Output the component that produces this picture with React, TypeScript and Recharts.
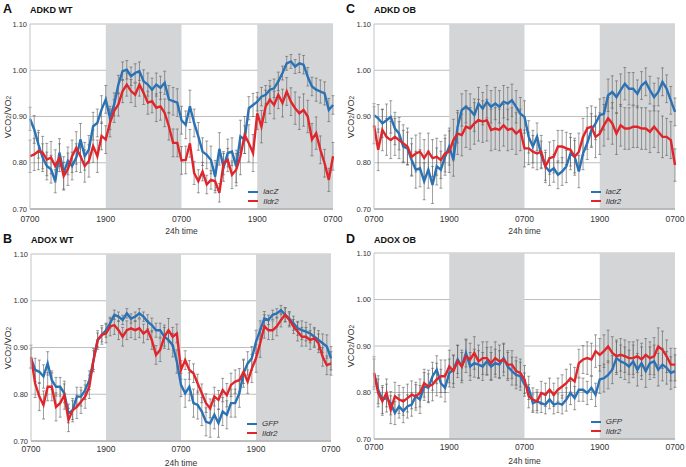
import React from 'react';
import { ComposedChart, Line, ErrorBar, XAxis, YAxis, CartesianGrid, ReferenceArea } from 'recharts';

// one sample every 40 min: index 0 = 0700 on day 1 ... 72 = 0700 two days later
const X_TICKS = [0, 18, 36, 54, 72];
const X_LABELS = ['0700', '1900', '0700', '1900', '0700'];
const Y_TICKS = [0.7, 0.8, 0.9, 1.0, 1.1];
const DARK = [[18, 36], [54, 72]];

// A - ADKD WT
const adkdWtLacZ = [
  0.895, 0.872, 0.84, 0.811, 0.793, 0.786, 0.76, 0.822, 0.778, 0.804,
  0.793, 0.811, 0.85, 0.814, 0.829, 0.879, 0.886, 0.915, 0.937, 0.897,
  0.926, 0.969, 0.998, 1.001, 0.987, 0.994, 0.998, 0.976, 0.969, 0.958,
  0.969, 0.962, 0.973, 0.937, 0.933, 0.93, 0.892, 0.882, 0.922, 0.886,
  0.857, 0.824, 0.817, 0.806, 0.77, 0.83, 0.79, 0.821, 0.824, 0.792,
  0.857, 0.85, 0.918, 0.925, 0.932, 0.943, 0.947, 0.958, 0.961, 0.976,
  0.994, 1.015, 1.019, 1.008, 1.015, 1.012, 0.986, 0.965, 0.958, 0.954,
  0.95, 0.914, 0.925];
const adkdWtIldr2 = [
  0.814, 0.818, 0.825, 0.822, 0.807, 0.811, 0.793, 0.811, 0.771, 0.786,
  0.814, 0.832, 0.814, 0.793, 0.804, 0.836, 0.814, 0.858, 0.85, 0.886,
  0.912, 0.926, 0.955, 0.969, 0.955, 0.947, 0.969, 0.951, 0.93, 0.933,
  0.919, 0.922, 0.908, 0.879, 0.843, 0.843, 0.805, 0.806, 0.842, 0.778,
  0.76, 0.781, 0.753, 0.763, 0.76, 0.735, 0.799, 0.806, 0.774, 0.785,
  0.814, 0.86, 0.842, 0.821, 0.907, 0.878, 0.922, 0.936, 0.925, 0.947,
  0.929, 0.954, 0.932, 0.918, 0.907, 0.914, 0.9, 0.85, 0.864, 0.828,
  0.799, 0.763, 0.814];
const adkdWtLacZErr = [
  0.025, 0.03, 0.03, 0.03, 0.03, 0.03, 0.025, 0.03, 0.035, 0.03, 0.03, 0.03, 0.035, 0.03, 0.03, 0.03, 0.03, 0.03,
  0.03, 0.025, 0.025, 0.02, 0.02, 0.02, 0.02, 0.02, 0.02, 0.025, 0.025, 0.025, 0.025, 0.025, 0.025, 0.03, 0.03, 0.03,
  0.03, 0.03, 0.035, 0.03, 0.03, 0.03, 0.03, 0.03, 0.035, 0.035, 0.03, 0.03, 0.03, 0.035, 0.035, 0.03, 0.025, 0.025,
  0.02, 0.02, 0.02, 0.02, 0.02, 0.02, 0.015, 0.015, 0.015, 0.015, 0.02, 0.02, 0.02, 0.02, 0.025, 0.025, 0.025, 0.025, 0.02];
const adkdWtIldr2Err = [
  0.035, 0.035, 0.04, 0.035, 0.035, 0.035, 0.035, 0.03, 0.03, 0.035, 0.035, 0.035, 0.035, 0.035, 0.035, 0.035, 0.035, 0.03,
  0.03, 0.03, 0.025, 0.025, 0.025, 0.025, 0.025, 0.025, 0.025, 0.025, 0.025, 0.025, 0.03, 0.03, 0.03, 0.03, 0.03, 0.03,
  0.03, 0.03, 0.03, 0.025, 0.025, 0.02, 0.02, 0.02, 0.02, 0.02, 0.025, 0.025, 0.03, 0.035, 0.04, 0.04, 0.04, 0.04,
  0.035, 0.035, 0.035, 0.03, 0.03, 0.03, 0.03, 0.03, 0.03, 0.035, 0.035, 0.035, 0.035, 0.035, 0.035, 0.03, 0.03, 0.025, 0.03];

// C - ADKD OB
const adkdObLacZ = [
  0.903, 0.896, 0.885, 0.892, 0.899, 0.874, 0.863, 0.835, 0.831, 0.806,
  0.785, 0.788, 0.76, 0.785, 0.752, 0.792, 0.785, 0.813, 0.835, 0.806,
  0.878, 0.914, 0.921, 0.914, 0.903, 0.928, 0.917, 0.932, 0.921, 0.928,
  0.921, 0.932, 0.928, 0.935, 0.921, 0.906, 0.899, 0.856, 0.835, 0.856,
  0.817, 0.792, 0.781, 0.788, 0.774, 0.781, 0.792, 0.82, 0.813, 0.781,
  0.82, 0.842, 0.871, 0.885, 0.903, 0.906, 0.946, 0.953, 0.942, 0.957,
  0.971, 0.96, 0.96, 0.949, 0.967, 0.975, 0.957, 0.942, 0.953, 0.975,
  0.96, 0.935, 0.91];
const adkdObIldr2 = [
  0.881, 0.828, 0.871, 0.856, 0.849, 0.856, 0.849, 0.842, 0.835, 0.813,
  0.82, 0.824, 0.81, 0.824, 0.81, 0.813, 0.806, 0.82, 0.824, 0.849,
  0.863, 0.86, 0.878, 0.874, 0.885, 0.892, 0.889, 0.892, 0.871, 0.874,
  0.871, 0.881, 0.871, 0.874, 0.863, 0.871, 0.831, 0.831, 0.824, 0.82,
  0.824, 0.792, 0.81, 0.813, 0.835, 0.835, 0.831, 0.828, 0.813, 0.824,
  0.856, 0.874, 0.878, 0.856, 0.863, 0.881, 0.896, 0.885, 0.863, 0.881,
  0.874, 0.874, 0.878, 0.878, 0.874, 0.874, 0.867, 0.878, 0.867, 0.856,
  0.856, 0.849, 0.795];
const adkdObLacZErr = [
  0.025, 0.03, 0.03, 0.035, 0.035, 0.035, 0.035, 0.035, 0.035, 0.035, 0.04, 0.04, 0.04, 0.04, 0.04, 0.04, 0.04, 0.04,
  0.04, 0.035, 0.035, 0.035, 0.035, 0.035, 0.035, 0.035, 0.035, 0.035, 0.035, 0.035, 0.035, 0.035, 0.035, 0.035, 0.035, 0.035,
  0.035, 0.035, 0.035, 0.03, 0.03, 0.03, 0.03, 0.03, 0.03, 0.03, 0.035, 0.035, 0.035, 0.035, 0.035, 0.035, 0.035, 0.035,
  0.035, 0.035, 0.035, 0.035, 0.035, 0.035, 0.035, 0.035, 0.035, 0.03, 0.03, 0.03, 0.03, 0.03, 0.03, 0.03, 0.03, 0.03, 0.03];
const adkdObIldr2Err = [
  0.04, 0.045, 0.045, 0.04, 0.04, 0.04, 0.04, 0.04, 0.04, 0.04, 0.04, 0.04, 0.04, 0.04, 0.04, 0.04, 0.04, 0.04,
  0.045, 0.045, 0.045, 0.045, 0.045, 0.045, 0.045, 0.045, 0.045, 0.045, 0.045, 0.045, 0.045, 0.045, 0.045, 0.045, 0.045, 0.045,
  0.04, 0.035, 0.035, 0.035, 0.035, 0.035, 0.035, 0.035, 0.035, 0.035, 0.035, 0.035, 0.04, 0.04, 0.04, 0.045, 0.045, 0.045,
  0.045, 0.045, 0.045, 0.045, 0.045, 0.045, 0.045, 0.045, 0.045, 0.045, 0.045, 0.045, 0.045, 0.045, 0.045, 0.045, 0.04, 0.04, 0.035];

// B - ADOX WT
const adoxWtGfp = [
  0.877, 0.852, 0.848, 0.838, 0.866, 0.83, 0.816, 0.816, 0.802, 0.759,
  0.766, 0.795, 0.795, 0.809, 0.83, 0.873, 0.916, 0.927, 0.937, 0.952,
  0.97, 0.966, 0.959, 0.973, 0.962, 0.966, 0.973, 0.966, 0.955, 0.948,
  0.937, 0.937, 0.923, 0.916, 0.905, 0.87, 0.82, 0.802, 0.816, 0.781,
  0.777, 0.763, 0.741, 0.738, 0.756, 0.738, 0.763, 0.756, 0.781, 0.781,
  0.802, 0.845, 0.866, 0.877, 0.912, 0.937, 0.962, 0.959, 0.97, 0.973,
  0.98, 0.97, 0.962, 0.952, 0.941, 0.937, 0.934, 0.93, 0.923, 0.916,
  0.909, 0.902, 0.877];
const adoxWtIldr2 = [
  0.88, 0.823, 0.795, 0.777, 0.816, 0.816, 0.773, 0.781, 0.798, 0.745,
  0.766, 0.773, 0.784, 0.795, 0.816, 0.873, 0.916, 0.927, 0.93, 0.945,
  0.948, 0.937, 0.923, 0.937, 0.941, 0.937, 0.941, 0.93, 0.937, 0.916,
  0.884, 0.895, 0.923, 0.937, 0.923, 0.93, 0.852, 0.873, 0.852, 0.845,
  0.823, 0.802, 0.781, 0.77, 0.795, 0.788, 0.809, 0.798, 0.82, 0.827,
  0.83, 0.848, 0.827, 0.855, 0.877, 0.909, 0.945, 0.937, 0.937, 0.945,
  0.959, 0.97, 0.959, 0.945, 0.934, 0.923, 0.923, 0.916, 0.92, 0.909,
  0.88, 0.862, 0.866];
const adoxWtGfpErr = [
  0.02, 0.025, 0.025, 0.025, 0.025, 0.02, 0.02, 0.02, 0.02, 0.02, 0.02, 0.02, 0.02, 0.02, 0.02, 0.02, 0.015, 0.015,
  0.015, 0.01, 0.01, 0.01, 0.01, 0.01, 0.01, 0.01, 0.01, 0.01, 0.015, 0.015, 0.015, 0.015, 0.02, 0.02, 0.025, 0.025,
  0.025, 0.03, 0.03, 0.03, 0.03, 0.03, 0.03, 0.03, 0.03, 0.03, 0.03, 0.03, 0.03, 0.03, 0.03, 0.03, 0.025, 0.025,
  0.025, 0.02, 0.015, 0.01, 0.01, 0.01, 0.01, 0.015, 0.015, 0.015, 0.015, 0.02, 0.02, 0.02, 0.02, 0.02, 0.02, 0.025, 0.025];
const adoxWtIldr2Err = [
  0.025, 0.03, 0.03, 0.03, 0.03, 0.03, 0.03, 0.03, 0.03, 0.025, 0.025, 0.025, 0.025, 0.025, 0.025, 0.025, 0.02, 0.02,
  0.02, 0.02, 0.02, 0.02, 0.02, 0.02, 0.02, 0.02, 0.02, 0.02, 0.02, 0.02, 0.02, 0.025, 0.025, 0.025, 0.02, 0.02,
  0.02, 0.02, 0.02, 0.02, 0.02, 0.02, 0.02, 0.02, 0.02, 0.02, 0.025, 0.025, 0.025, 0.025, 0.025, 0.025, 0.025, 0.03,
  0.03, 0.03, 0.025, 0.02, 0.02, 0.02, 0.015, 0.015, 0.015, 0.015, 0.02, 0.02, 0.02, 0.02, 0.02, 0.02, 0.02, 0.02, 0.025];

// D - ADOX OB
const adoxObGfp = [
  0.842, 0.806, 0.785, 0.788, 0.777, 0.756, 0.77, 0.76, 0.77, 0.774,
  0.792, 0.785, 0.813, 0.81, 0.835, 0.849, 0.82, 0.81, 0.842, 0.849,
  0.871, 0.856, 0.885, 0.856, 0.863, 0.86, 0.856, 0.867, 0.856, 0.863,
  0.86, 0.874, 0.856, 0.846, 0.838, 0.835, 0.817, 0.81, 0.777, 0.781,
  0.777, 0.774, 0.785, 0.774, 0.777, 0.774, 0.785, 0.799, 0.788, 0.806,
  0.806, 0.799, 0.81, 0.795, 0.828, 0.831, 0.838, 0.849, 0.874, 0.867,
  0.863, 0.856, 0.867, 0.849, 0.863, 0.846, 0.863, 0.867, 0.849, 0.86,
  0.853, 0.842, 0.846];
const adoxObIldr2 = [
  0.842, 0.799, 0.781, 0.799, 0.763, 0.792, 0.785, 0.781, 0.788, 0.795,
  0.792, 0.799, 0.82, 0.813, 0.817, 0.828, 0.835, 0.835, 0.856, 0.846,
  0.867, 0.856, 0.878, 0.871, 0.885, 0.867, 0.874, 0.874, 0.863, 0.874,
  0.867, 0.871, 0.86, 0.86, 0.846, 0.842, 0.828, 0.792, 0.785, 0.781,
  0.799, 0.795, 0.806, 0.795, 0.806, 0.813, 0.82, 0.831, 0.824, 0.863,
  0.871, 0.874, 0.871, 0.889, 0.881, 0.889, 0.899, 0.885, 0.878, 0.881,
  0.878, 0.874, 0.874, 0.878, 0.871, 0.881, 0.874, 0.878, 0.899, 0.892,
  0.878, 0.86, 0.86];
const adoxObGfpErr = [
  0.03, 0.03, 0.03, 0.03, 0.025, 0.025, 0.025, 0.025, 0.025, 0.025, 0.025, 0.03, 0.03, 0.03, 0.03, 0.03, 0.03, 0.03,
  0.03, 0.03, 0.03, 0.03, 0.03, 0.03, 0.03, 0.03, 0.03, 0.03, 0.03, 0.03, 0.03, 0.03, 0.03, 0.03, 0.03, 0.03,
  0.025, 0.025, 0.02, 0.02, 0.02, 0.02, 0.02, 0.02, 0.02, 0.02, 0.025, 0.025, 0.025, 0.025, 0.025, 0.025, 0.025, 0.025,
  0.03, 0.03, 0.03, 0.03, 0.035, 0.035, 0.035, 0.035, 0.035, 0.035, 0.035, 0.035, 0.035, 0.035, 0.035, 0.035, 0.035, 0.035, 0.035];
const adoxObIldr2Err = [
  0.035, 0.03, 0.03, 0.03, 0.03, 0.03, 0.03, 0.03, 0.03, 0.03, 0.03, 0.03, 0.03, 0.035, 0.035, 0.035, 0.035, 0.035,
  0.035, 0.035, 0.035, 0.035, 0.035, 0.035, 0.035, 0.035, 0.035, 0.035, 0.035, 0.035, 0.035, 0.035, 0.03, 0.03, 0.03, 0.03,
  0.03, 0.025, 0.025, 0.025, 0.025, 0.025, 0.025, 0.025, 0.025, 0.025, 0.03, 0.03, 0.03, 0.03, 0.03, 0.035, 0.035, 0.035,
  0.035, 0.035, 0.035, 0.035, 0.035, 0.035, 0.035, 0.035, 0.035, 0.035, 0.035, 0.035, 0.035, 0.04, 0.04, 0.04, 0.035, 0.035, 0.035];

const BLUE = '#2a72b6';
const RED = '#e1262b';
const FONT = '"Liberation Sans", Arial, sans-serif';

const panels = [
  { letter: 'A', title: 'ADKD WT', names: ['lacZ', 'Ildr2'], blue: adkdWtLacZ, red: adkdWtIldr2, blueErr: adkdWtLacZErr, redErr: adkdWtIldr2Err,
    left: 0, top: 0, w: 343, h: 230, margin: { top: 24, right: 10, bottom: 7, left: 0 }, yw: 30, tickGap: 7 },
  { letter: 'C', title: 'ADKD OB', names: ['lacZ', 'Ildr2'], blue: adkdObLacZ, red: adkdObIldr2, blueErr: adkdObLacZErr, redErr: adkdObIldr2Err,
    left: 343, top: 0, w: 343, h: 230, margin: { top: 24, right: 11, bottom: 7, left: 0 }, yw: 31, tickGap: 7 },
  { letter: 'B', title: 'ADOX WT', names: ['GFP', 'Ildr2'], blue: adoxWtGfp, red: adoxWtIldr2, blueErr: adoxWtGfpErr, redErr: adoxWtIldr2Err,
    left: 0, top: 230, w: 343, h: 237, margin: { top: 24, right: 12, bottom: 12, left: 0 }, yw: 31, tickGap: 5 },
  { letter: 'D', title: 'ADOX OB', names: ['GFP', 'Ildr2'], blue: adoxObGfp, red: adoxObIldr2, blueErr: adoxObGfpErr, redErr: adoxObIldr2Err,
    left: 343, top: 230, w: 343, h: 237, margin: { top: 23, right: 11, bottom: 14, left: 0 }, yw: 31, tickGap: 5 },
];

const Panel = ({ p }: { p: any }) => {
  const rows = p.blue.map((v: number, i: number) => ({
    t: i, blue: v, red: p.red[i], blueErr: p.blueErr[i], redErr: p.redErr[i],
  }));
  const plotTop = p.margin.top;
  const plotBottom = p.h - p.margin.bottom - 14;
  const plotLeft = p.yw;
  const plotRight = p.w - p.margin.right;
  const legX = plotLeft + (plotRight - plotLeft) * 0.72;

  return (
    <div style={{ position: 'absolute', left: p.left, top: p.top, width: p.w, height: p.h, fontFamily: FONT }}>
      <ComposedChart width={p.w} height={p.h} data={rows} margin={p.margin}>
        {DARK.map(([a, b]) => (
          <ReferenceArea key={a} x1={a} x2={b} y1={0.7} y2={1.1} fill="#d4d5d7" fillOpacity={1} stroke="none" />
        ))}
        <CartesianGrid vertical={false} stroke="#adadad" strokeWidth={0.8} />
        <XAxis
          type="number" dataKey="t" domain={[0, 72]} ticks={X_TICKS}
          tickFormatter={(v: number) => X_LABELS[X_TICKS.indexOf(v)]}
          height={14} tickLine={false} tickSize={0} tickMargin={p.tickGap}
          stroke="#9a9a9a" tick={{ fontSize: 8.5, fill: '#333', fontFamily: FONT }}
        />
        <YAxis
          type="number" domain={[0.7, 1.1]} ticks={Y_TICKS} width={p.yw}
          tickFormatter={(v: number) => v.toFixed(2)}
          tickLine={false} tickSize={0} tickMargin={3}
          stroke="#c4c4c4" tick={{ fontSize: 7.5, fill: '#333', fontFamily: FONT }}
        />
        {/* error bars first so both traces sit on top of them */}
        <Line dataKey="blue" stroke="none" dot={false} activeDot={false} isAnimationActive={false}>
          <ErrorBar dataKey="blueErr" width={1.5} stroke="#5e5e5e" strokeWidth={0.6} />
        </Line>
        <Line dataKey="red" stroke="none" dot={false} activeDot={false} isAnimationActive={false}>
          <ErrorBar dataKey="redErr" width={1.5} stroke="#5e5e5e" strokeWidth={0.6} />
        </Line>
        <Line type="linear" dataKey="blue" stroke={BLUE} strokeWidth={2.4} dot={false} activeDot={false} isAnimationActive={false} />
        <Line type="linear" dataKey="red" stroke={RED} strokeWidth={2.4} dot={false} activeDot={false} isAnimationActive={false} />
      </ComposedChart>

      <div style={{ position: 'absolute', left: 3, top: 2, fontSize: 12.5, fontWeight: 'bold', color: '#111' }}>{p.letter}</div>
      <div style={{ position: 'absolute', left: plotLeft, top: 5, fontSize: 9, fontWeight: 'bold', color: '#111' }}>{p.title}</div>

      <div style={{
        position: 'absolute', left: 8, top: (plotTop + plotBottom) / 2, fontSize: 9, color: '#333',
        transform: 'translate(-50%, -50%) rotate(-90deg)', whiteSpace: 'nowrap',
      }}>
        VCO<span style={{ fontSize: 6.5 }}>2</span>/VO<span style={{ fontSize: 6.5 }}>2</span>
      </div>

      <div style={{
        position: 'absolute', left: (plotLeft + plotRight) / 2, top: plotBottom + 17, fontSize: 8.5, color: '#333',
        transform: 'translateX(-50%)', whiteSpace: 'nowrap',
      }}>24h time</div>

      {p.names.map((n: string, i: number) => (
        <div key={n} style={{ position: 'absolute', left: legX, top: plotBottom - 22 + i * 9.5, display: 'flex', alignItems: 'center', height: 9 }}>
          <div style={{ width: 10, height: 2, background: i === 0 ? BLUE : RED }} />
          <span style={{ marginLeft: 5, fontSize: 8, fontStyle: 'italic', color: '#333' }}>{n}</span>
        </div>
      ))}
    </div>
  );
};

export default function App() {
  return (
    <div style={{ position: 'absolute', left: 0, top: 0, width: 686, height: 467, background: '#fff' }}>
      {panels.map((p) => <Panel key={p.letter} p={p} />)}
    </div>
  );
}
